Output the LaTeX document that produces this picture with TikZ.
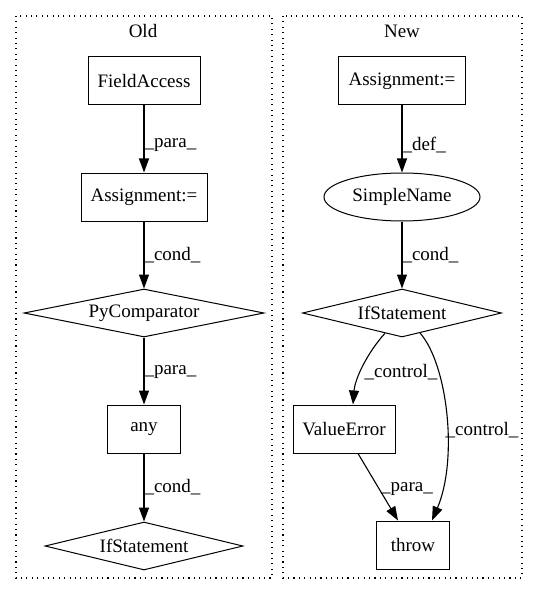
\documentclass[tikz,border=0pt]{standalone}
\usepackage{fontspec}
\setmainfont{Liberation Serif}
\usetikzlibrary{shapes.geometric,arrows.meta}
\begin{document}
\begin{tikzpicture}[x=1pt,y=-1pt,
  every node/.style={font=\fontsize{19}{22}\selectfont},
  box/.style={draw,rectangle,inner sep=0pt,minimum height=48pt,line width=1pt},
  dia/.style={draw,diamond,inner sep=0pt,minimum height=48pt,line width=1pt},
  ell/.style={draw,ellipse,inner sep=0pt,minimum height=48pt,line width=1pt},
  edge/.style={draw,line width=1.1pt,-{Triangle[length=14pt,width=10pt]}},
  lab/.style={anchor=west,inner sep=0pt},
  cluster/.style={draw,line width=1.1pt,dash pattern=on 1.1pt off 4.3pt}]
\useasboundingbox (0,0) rectangle (539,596);
% clusters
\draw[cluster] (16,16) rectangle (272,578);
\draw[cluster] (283,16) rectangle (522,578);
\node (oldt) at (143,31) {Old};
\node (newt) at (402,31) {New};
% Old
\node[box,minimum width=112pt] (fa) at (144,81) {FieldAccess};
\node[box,minimum width=126pt] (oa) at (144,197) {Assignment:=};
\node[dia,minimum width=240pt,shape aspect=5] (pc) at (144,313) {PyComparator};
\node[box,minimum width=73pt] (any) at (144,429) {any};
\node[dia,minimum width=198pt,shape aspect=4.1] (oif) at (144,546) {IfStatement};
\draw[edge] (fa) -- node[lab,pos=0.59] {\_para\_} (oa);
\draw[edge] (oa) -- node[lab,pos=0.5] {\_cond\_} (pc);
\draw[edge] (pc) -- node[lab,pos=0.51] {\_para\_} (any);
\draw[edge] (any) -- node[lab,pos=0.5] {\_cond\_} (oif);
% New
\node[box,minimum width=127pt] (na) at (402,81) {Assignment:=};
\node[ell,minimum width=156pt] (sn) at (402,197) {SimpleName};
\node[dia,minimum width=199pt,shape aspect=4.1] (nif) at (402,313) {IfStatement};
\node[box,minimum width=102pt] (ve) at (344,429) {ValueError};
\node[box,minimum width=73pt] (th) at (413,545) {throw};
\draw[edge] (na) -- node[lab,pos=0.59] {\_def\_} (sn);
\draw[edge] (sn) -- node[lab,pos=0.5] {\_cond\_} (nif);
\draw[edge] (nif.-130) .. controls (368,352) and (355,378) .. ([xshift=9pt]ve.north);
\draw[edge] (nif.-48) .. controls (448,365) and (458,460) .. ([xshift=19pt]th.north);
\draw[edge] ([xshift=14pt]ve.south) -- ([xshift=-15pt]th.north);
\node (l1) at (401,372) {\_control\_};
\node (l2) at (482,430) {\_control\_};
\node (l3) at (407,489) {\_para\_};
\end{tikzpicture}
\end{document}
